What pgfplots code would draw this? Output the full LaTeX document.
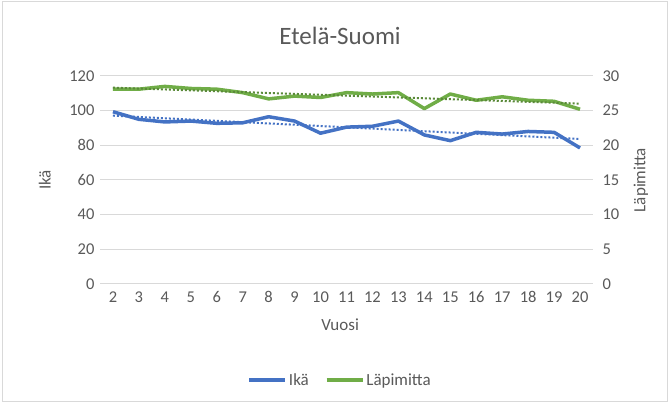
\documentclass[border=0pt]{standalone}
\usepackage{pgfplots}
\usepackage{pgfplotstable}
\pgfplotsset{compat=1.18}
\usepackage{fontspec}
\setmainfont{Carlito}
\definecolor{cblue}{HTML}{4472C4}
\definecolor{cgreen}{HTML}{70AD47}
\definecolor{cgrid}{HTML}{D9D9D9}
\definecolor{ctext}{HTML}{595959}
\pgfplotstableread{
x Ika Lapi
2 99.4 28.1
3 95.0 28.1
4 93.5 28.5
5 94.0 28.2
6 92.7 28.1
7 93.0 27.6
8 96.5 26.7
9 94.0 27.1
10 87.0 26.9
11 90.5 27.6
12 91.0 27.4
13 94.0 27.6
14 86.0 25.3
15 82.7 27.4
16 87.5 26.5
17 86.5 27.0
18 88.0 26.5
19 87.5 26.35
20 78.5 25.2
}\datatable
\pgfplotsset{
  common/.style={
    scale only axis, width=493pt, height=208pt,
    at={(100pt,120pt)}, anchor=south west,
    xmin=1.5, xmax=20.5,
    font=\fontsize{16}{19}\selectfont,
    tick label style={text=ctext, font=\fontsize{16.5}{19}\selectfont},
    label style={text=ctext, font=\fontsize{17}{20}\selectfont},
    major tick length=0pt,
    /pgf/number format/assume math mode=true,
  }
}
\begin{document}
\begin{tikzpicture}
\path[use as bounding box] (0pt,0pt) rectangle (669pt,404pt);
\draw[cgrid,line width=1pt] (2pt,2pt) rectangle (667pt,402pt);
\begin{axis}[common,
  ymin=0, ymax=120, ytick={0,20,...,120},
  xtick={2,...,20},
  axis line style={draw=none},
  ymajorgrids, grid style={cgrid, line width=1pt},
  ylabel={Ikä}, ylabel style={at={(axis description cs:-0.112,0.5)}, anchor=center, rotate=0},
  xlabel={Vuosi}, xlabel style={at={(axis description cs:0.487,-0.197)}, anchor=center},
  title={Etelä-Suomi}, title style={at={(axis description cs:0.487,1.163)}, anchor=center, text=ctext, font=\fontsize{25}{29}\selectfont},
  yticklabel style={xshift=-2pt},
  xticklabel style={yshift=-4pt},
]
\addplot[cblue, line width=3.5pt, line join=round] table[x=x,y=Ika] {\datatable};
\addplot[cblue, line width=2pt, dotted] table[x=x,y={create col/linear regression={y=Ika}}] {\datatable};
\end{axis}
\begin{axis}[common,
  ymin=0, ymax=30, ytick={0,5,...,30},
  axis y line*=right, axis x line=none,
  axis line style={draw=none},
  ylabel={Läpimitta}, ylabel style={at={(axis description cs:1.097,0.5)}, anchor=center, rotate=0},
  yticklabel style={xshift=6pt},
  legend style={at={(axis description cs:0.487,-0.4615)}, anchor=center, draw=none, fill=none,
    font=\fontsize{17}{20}\selectfont, text=ctext, legend columns=2,
    /tikz/every even column/.append style={column sep=14pt}},
  legend image code/.code={\draw[#1] (0pt,0pt) -- (36pt,0pt);},
]
\addlegendimage{cblue, line width=3.5pt}
\addlegendentry{Ikä}
\addplot[cgreen, line width=3.5pt, line join=round] table[x=x,y=Lapi] {\datatable};
\addlegendentry{Läpimitta}
\addplot[cgreen!80!black, line width=2pt, dotted, forget plot] table[x=x,y={create col/linear regression={y=Lapi}}] {\datatable};
\end{axis}
\end{tikzpicture}
\end{document}
